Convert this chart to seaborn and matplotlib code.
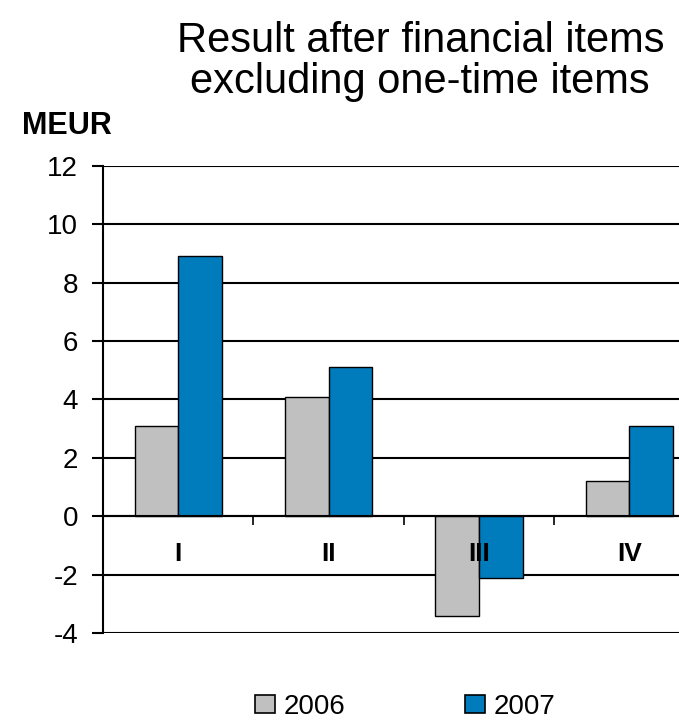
import matplotlib
matplotlib.use("Agg")
import matplotlib.pyplot as plt
import seaborn as sns
import pandas as pd
from matplotlib.patches import Patch

quarters = ["I", "II", "III", "IV"]
years = ["2006", "2007"]
values_2006 = [3.1, 4.1, -3.4, 1.2]
values_2007 = [8.9, 5.1, -2.1, 3.1]
colors = {"2006": "#C0C0C0", "2007": "#007BBB"}
y_ticks = [-4, -2, 0, 2, 4, 6, 8, 10, 12]

df = pd.DataFrame({
    "quarter": quarters * 2,
    "year": [years[0]] * 4 + [years[1]] * 4,
    "value": values_2006 + values_2007,
})

sns.set_theme(style="white")
plt.rcParams["font.family"] = ["Liberation Sans", "DejaVu Sans"]
plt.rcParams["axes.unicode_minus"] = False
plt.rcParams["text.color"] = "black"
plt.rcParams["xtick.color"] = "black"
plt.rcParams["ytick.color"] = "black"

fig = plt.figure(figsize=(6.79, 7.21), dpi=100)
ax = fig.add_axes([0.1517, 0.122, 0.8483, 0.648])

sns.barplot(data=df, x="quarter", y="value", hue="year", order=quarters,
            hue_order=years, palette=colors, width=0.58, dodge=True,
            edgecolor="black", linewidth=1.0, saturation=1, ax=ax,
            legend=False, zorder=3)

ax.set_ylim(-4, 12)
ax.set_xlim(-0.5, 3.33)
ax.set_yticks(y_ticks)
ax.set_yticklabels([str(t) for t in y_ticks], fontsize=20)
ax.tick_params(axis="y", direction="out", length=8, width=1.5, color="black",
               left=True, pad=10, labelcolor="black")
for t in y_ticks:
    ax.axhline(t, color="black", lw=1.5, zorder=1)

# category axis runs along the zero line, ticks mark category boundaries
ax.spines["bottom"].set_position(("data", 0))
ax.spines["bottom"].set_linewidth(1.5)
ax.spines["bottom"].set_color("black")
ax.spines["bottom"].set_zorder(4)
ax.set_xticks([0.5, 1.5, 2.5])
ax.set_xticklabels([])
ax.tick_params(axis="x", direction="out", length=6.5, width=1.2,
               color="black", bottom=True)
for i, q in enumerate(quarters):
    ax.text(i, -1.3, q, ha="center", va="center", fontsize=19,
            fontweight="bold", color="black", zorder=5)

ax.spines["left"].set_linewidth(1.5)
ax.spines["left"].set_color("black")
for s in ("top", "right"):
    ax.spines[s].set_visible(False)
ax.set_xlabel("")
ax.set_ylabel("")

fig.text(0.619, 0.915, "Result after financial items\nexcluding one-time items",
         ha="center", va="center", fontsize=30, linespacing=1.02,
         color="black")
fig.text(0.032, 0.825, "MEUR", ha="left", va="center", fontsize=22,
         fontweight="bold", color="black")

handles = [Patch(facecolor=colors[y], edgecolor="black", linewidth=1.2)
           for y in years]
fig.legend(handles, years, loc="center", bbox_to_anchor=(0.597, 0.02),
           ncol=2, frameon=False, fontsize=20, handlelength=0.72,
           handleheight=0.65, handletextpad=0.32, columnspacing=4.3,
           borderpad=0, borderaxespad=0)

fig.savefig("out.png", dpi=100)
